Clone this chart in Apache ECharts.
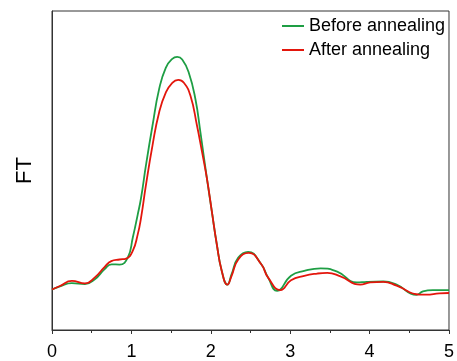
<!DOCTYPE html>
<html>
<head>
<meta charset="utf-8">
<script src="https://cdn.jsdelivr.net/npm/echarts@6/dist/echarts.min.js"></script>
<style>
  html, body { margin: 0; padding: 0; background: #fff; }
  #chart { width: 457px; height: 361px; }
</style>
</head>
<body>
<div id="chart"></div>
<script>
// before annealing: R positions and FT magnitude
const beforeR = [
  0, 0.1, 0.25, 0.415, 0.54, 0.66, 0.75, 0.85, 0.954, 1.017,
  1.079, 1.121, 1.183, 1.266, 1.349, 1.433, 1.515, 1.577, 1.64, 1.722,
  1.806, 1.869, 1.951, 2.013, 2.076, 2.138, 2.209, 2.262, 2.346, 2.47,
  2.636, 2.72, 2.835, 3.01, 3.177, 3.384, 3.592, 3.84, 3.965, 4.173,
  4.34, 4.588, 4.672, 4.796, 5.0
]
const beforeFT = [
  12.7, 13.7, 14.7, 14.4, 15.9, 19.0, 20.6, 20.5, 22.7, 28.9,
  36.1, 41.3, 51.6, 64.1, 75.5, 82.2, 85.0, 85.6, 84.8, 80.7,
  72.4, 62.0, 47.5, 37.2, 26.8, 18.5, 14.2, 17.5, 22.7, 24.5,
  20.6, 16.5, 12.3, 17.0, 18.5, 19.3, 18.3, 14.9, 15.1, 15.2,
  14.2, 11.0, 12.1, 12.5, 12.5
]

// after annealing
const afterR = [
  0, 0.1, 0.25, 0.415, 0.54, 0.664, 0.747, 0.851, 0.934, 1.017,
  1.079, 1.121, 1.183, 1.266, 1.349, 1.433, 1.515, 1.59, 1.661, 1.744,
  1.826, 1.889, 1.951, 2.013, 2.076, 2.138, 2.209, 2.262, 2.346, 2.479,
  2.636, 2.72, 2.878, 3.01, 3.177, 3.342, 3.467, 3.633, 3.882, 4.006,
  4.173, 4.34, 4.63, 4.713, 4.879, 5.0
]
const afterFT = [
  12.7, 13.8, 15.4, 14.6, 16.5, 19.8, 21.6, 22.1, 22.4, 24.8,
  29.9, 35.1, 45.4, 57.9, 68.2, 74.4, 77.5, 78.4, 77.5, 73.4,
  64.1, 55.9, 47.5, 37.2, 26.8, 18.5, 14.2, 17.0, 22.1, 24.2,
  20.6, 16.5, 12.5, 15.6, 17.0, 17.7, 17.9, 16.8, 14.2, 14.9,
  15.1, 13.9, 11.1, 11.1, 11.5, 11.6
]

const xTicks = ['0', '1', '2', '3', '4', '5']

const font = 'Arial, "Liberation Sans", sans-serif'
const axisColor = '#333'

const toPairs = (xs, ys) => xs.map((x, i) => [x, ys[i]])

const chart = echarts.init(document.getElementById('chart'), null, { renderer: 'canvas' })

chart.setOption({
  animation: false,
  textStyle: { fontFamily: font },
  grid: {
    left: 52,
    right: 4,
    top: 11,
    bottom: 28,
    show: true,
    borderColor: axisColor,
    borderWidth: 1,
  },
  legend: {
    orient: 'vertical',
    left: 277,
    top: 12,
    icon: 'rect',
    itemWidth: 22,
    itemHeight: 2,
    itemGap: 6,
    itemTextGap: 8,
    textStyle: { fontFamily: font, fontSize: 18, color: '#000' },
    data: ['Before annealing', 'After annealing'],
  },
  xAxis: {
    type: 'value',
    min: 0,
    max: 5,
    interval: 1,
    axisLine: { show: true, lineStyle: { color: axisColor, width: 1 } },
    axisTick: { show: true, length: 4, lineStyle: { color: axisColor } },
    minorTick: { show: true, splitNumber: 2, length: 3, lineStyle: { color: axisColor } },
    splitLine: { show: false },
    axisLabel: {
      color: '#000',
      fontSize: 18,
      margin: 13,
      fontFamily: font,
      formatter: (v) => xTicks[Math.round(v)],
    },
  },
  yAxis: {
    type: 'value',
    min: 0,
    max: 100,
    name: 'FT',
    nameLocation: 'middle',
    nameGap: 16,
    nameRotate: 90,
    nameTextStyle: { fontSize: 22, color: '#000', fontFamily: font },
    axisLine: { show: true, lineStyle: { color: axisColor, width: 1 } },
    axisTick: { show: false },
    axisLabel: { show: false },
    splitLine: { show: false },
  },
  series: [
    {
      name: 'Before annealing',
      type: 'line',
      smooth: 0.5,
      symbol: 'none',
      data: toPairs(beforeR, beforeFT),
      lineStyle: { color: '#1e9e44', width: 1.8 },
      itemStyle: { color: '#1e9e44' },
      z: 2,
    },
    {
      name: 'After annealing',
      type: 'line',
      smooth: 0.5,
      symbol: 'none',
      data: toPairs(afterR, afterFT),
      lineStyle: { color: '#e3160c', width: 1.8 },
      itemStyle: { color: '#e3160c' },
      z: 3,
    },
  ],
})
</script>
</body>
</html>
